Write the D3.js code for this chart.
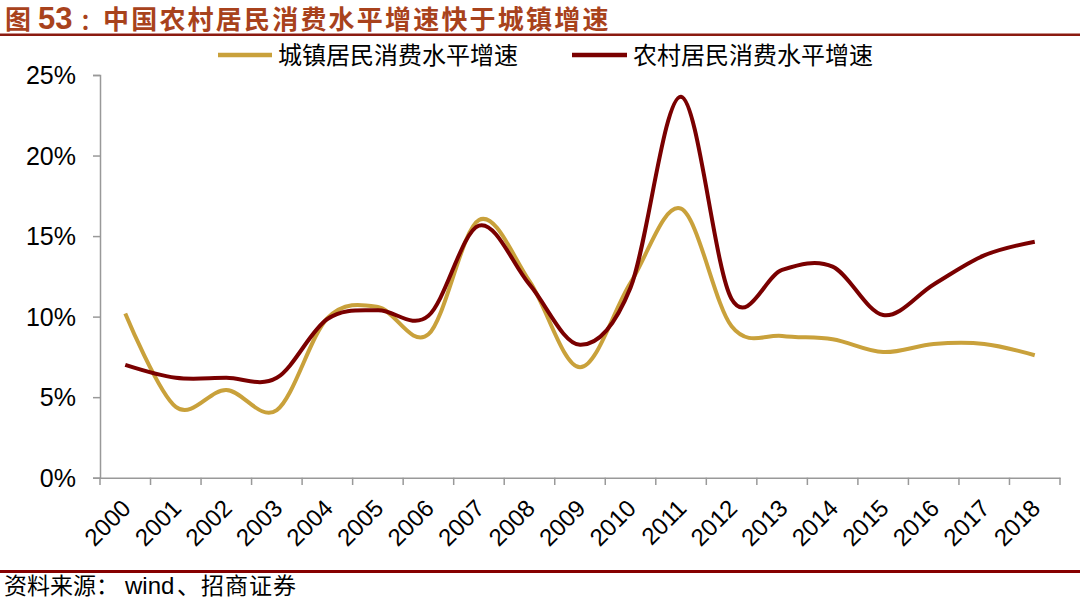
<!DOCTYPE html>
<html><head><meta charset="utf-8">
<script src="https://cdn.jsdelivr.net/npm/d3@7"></script>
<style>body{margin:0;background:#fff}svg{display:block}</style>
</head><body>
<svg id="c" width="1080" height="602"></svg>
<script>
const years = ["2000","2001","2002","2003","2004","2005","2006","2007","2008","2009","2010","2011","2012","2013","2014","2015","2016","2017","2018"];
const urban = [10.2,4.4,5.45,4.2,9.9,10.6,8.9,16.0,12.2,6.85,12.1,16.7,9.4,8.8,8.6,7.8,8.3,8.3,7.6];
const rural = [7.0,6.2,6.2,6.2,9.85,10.4,10.05,15.65,12.0,8.25,11.8,23.65,11.1,12.9,13.1,10.1,12.0,13.8,14.65];
const yTicks = [0,5,10,15,20,25];
const seriesNames = ["城镇居民消费水平增速","农村居民消费水平增速"];
const colors = ["#C9A13B","#7A0000"];

const svg = d3.select("#c");
const W = 1080;
const x = d3.scaleBand().domain(years).range([100,1060]);
const y = d3.scaleLinear().domain([0,25]).range([477.7,75]);
const cjk = "'Noto Sans CJK SC',sans-serif";
const latin = "'Liberation Sans',Arial,sans-serif";

// title
const title = svg.append("text").attr("y",29).attr("fill","#A8421C")
  .attr("font-family",cjk).attr("font-weight","bold").attr("font-size",26);
title.append("tspan").attr("x",5).text("图 ");
title.append("tspan").attr("x",38).attr("font-family",latin).attr("font-size",31).text("53");
title.append("tspan").attr("x",80).attr("font-size",22).text("：");
title.append("tspan").attr("x",103).attr("letter-spacing",2.2).text("中国农村居民消费水平增速快于城镇增速");
svg.append("rect").attr("x",0).attr("y",33.5).attr("width",W).attr("height",2.5).attr("fill","#8B1A10");

// footer
svg.append("rect").attr("x",0).attr("y",570).attr("width",W).attr("height",3).attr("fill","#860000");
const foot = svg.append("text").attr("y",594).attr("fill","#000")
  .attr("font-family",cjk).attr("font-size",23);
foot.append("tspan").attr("x",4).text("资料来源：");
foot.append("tspan").attr("x",125).attr("font-family",latin).attr("font-size",24).text("wind");
foot.append("tspan").attr("x",177).attr("letter-spacing",1).text("、招商证券");

// y axis
const yAxis = svg.append("g").attr("transform","translate(100,0)")
  .call(d3.axisLeft(y).tickValues(yTicks).tickSize(7).tickFormat(d=>d+"%"));
yAxis.select(".domain").attr("stroke","#999").attr("stroke-width",1.5);
yAxis.selectAll(".tick line").attr("stroke","#999").attr("stroke-width",1.5);
yAxis.selectAll(".tick text").attr("font-family",latin)
  .attr("font-size",25).attr("fill","#000").attr("x",-24).attr("dy","0.35em");

// x axis
const xAxis = svg.append("g").attr("transform","translate(0,477.7)")
  .call(d3.axisBottom(x).tickSize(0).tickSizeOuter(0));
xAxis.select(".domain").attr("stroke","#999").attr("stroke-width",1.5);
const bounds = years.map(d=>x(d)).concat([x.range()[1]]);
svg.append("g").selectAll("line").data(bounds).join("line")
  .attr("x1",d=>d).attr("x2",d=>d).attr("y1",477.7).attr("y2",485)
  .attr("stroke","#999").attr("stroke-width",1.5);
xAxis.selectAll(".tick text")
  .attr("font-family",latin).attr("font-size",24).attr("fill","#000")
  .attr("text-anchor","end").attr("dy",0).attr("y",0)
  .attr("transform","translate(7,32) rotate(-45)");

// lines
const line = d3.line().x((d,i)=>x(years[i])+x.bandwidth()/2).y(d=>y(d)).curve(d3.curveCardinal.tension(0));
[urban,rural].forEach((s,i)=>{
  svg.append("path").datum(s).attr("d",line).attr("fill","none")
    .attr("stroke",colors[i]).attr("stroke-width",4).attr("stroke-linejoin","round");
});

// legend
const leg = [{x1:218,x2:272,tx:278},{x1:572,x2:627,tx:633}];
leg.forEach((l,i)=>{
  svg.append("line").attr("x1",l.x1).attr("x2",l.x2).attr("y1",55).attr("y2",55)
    .attr("stroke",colors[i]).attr("stroke-width",4.5);
  svg.append("text").attr("x",l.tx).attr("y",64).attr("fill","#000")
    .attr("font-family",cjk).attr("font-size",24)
    .text(seriesNames[i]);
});
</script>
</body></html>
